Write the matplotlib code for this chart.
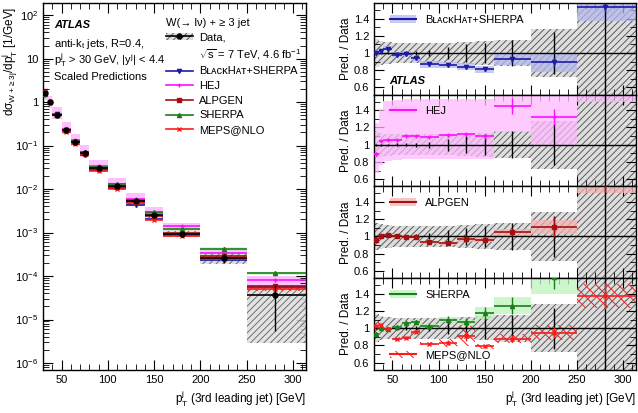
import numpy as np
import matplotlib
matplotlib.use("Agg")
import matplotlib.pyplot as plt
from matplotlib.patches import Patch
from matplotlib.lines import Line2D
from matplotlib.ticker import MultipleLocator, FixedLocator, NullFormatter

plt.rcParams['font.family'] = ['Liberation Sans', 'DejaVu Sans']
plt.rcParams['mathtext.fontset'] = 'custom'
plt.rcParams['mathtext.rm'] = 'Liberation Sans'
plt.rcParams['mathtext.it'] = 'Liberation Sans:italic'
plt.rcParams['mathtext.bf'] = 'Liberation Sans:bold'
plt.rcParams['mathtext.default'] = 'regular'
plt.rcParams['hatch.linewidth'] = 0.7

# ===== binning (3rd jet pT, GeV) =====
bin_lo = np.array([30, 35, 40, 50, 60, 70, 80, 100, 120, 140, 160, 200, 250])
bin_hi = np.array([35, 40, 50, 60, 70, 80, 100, 120, 140, 160, 200, 250, 350])
bin_x = np.array([32.5, 37.5, 45, 55, 65, 75, 90, 110, 130, 150, 180, 225, 280])

# ===== data (dsigma/dpT, 1/GeV) and relative uncertainties =====
data = np.array([1.65, 0.98, 0.50, 0.23, 0.12, 0.066, 0.031, 0.012, 0.0052, 0.0025, 0.00095, 0.00026, 3.6e-5])
data_stat_up = np.array([0.01, 0.01, 0.01, 0.015, 0.02, 0.025, 0.035, 0.07, 0.10, 0.12, 0.155, 0.24, 0.70])
data_stat_dn = np.array([0.01, 0.01, 0.01, 0.015, 0.02, 0.025, 0.035, 0.07, 0.10, 0.12, 0.155, 0.24, 0.85])
data_sys_up = np.array([0.16, 0.14, 0.13, 0.12, 0.12, 0.12, 0.12, 0.12, 0.13, 0.14, 0.155, 0.28, 0.67])
data_sys_dn = np.array([0.16, 0.14, 0.13, 0.12, 0.12, 0.12, 0.12, 0.12, 0.13, 0.14, 0.155, 0.28, 0.92])

# ===== predictions, as ratio to data =====
bh_ratio = np.array([1.00, 1.02, 1.05, 0.98, 0.99, 0.94, 0.87, 0.86, 0.84, 0.81, 0.93, 0.89, 1.53])
bh_band = np.array([0.03, 0.03, 0.03, 0.03, 0.03, 0.03, 0.04, 0.04, 0.04, 0.04, 0.07, 0.11, 0.16])
bh_err = np.array([0.005, 0.005, 0.01, 0.01, 0.01, 0.01, 0.01, 0.01, 0.015, 0.02, 0.03, 0.05, 0.05])

hej_ratio = np.array([0.89, 1.04, 1.05, 1.05, 1.10, 1.10, 1.09, 1.11, 1.12, 1.10, 1.45, 1.32, 2.2])
hej_lo = np.array([0.67, 0.76, 0.81, 0.82, 0.83, 0.83, 0.83, 0.84, 0.84, 0.84, 1.15, 0.98, 1.5])
hej_hi = np.array([1.25, 1.41, 1.51, 1.52, 1.53, 1.53, 1.53, 1.53, 1.53, 1.53, 1.75, 1.70, 2.8])
hej_err = np.array([0.02, 0.01, 0.01, 0.01, 0.01, 0.01, 0.01, 0.02, 0.02, 0.03, 0.09, 0.09, 0.2])

alp_ratio = np.array([0.96, 1.01, 1.02, 1.01, 0.99, 0.99, 0.93, 0.92, 0.97, 0.96, 1.05, 1.11, 1.62])
alp_band = np.array([0.02, 0.02, 0.02, 0.02, 0.02, 0.02, 0.02, 0.02, 0.03, 0.03, 0.04, 0.08, 0.12])
alp_err = np.array([0.01, 0.01, 0.01, 0.01, 0.01, 0.01, 0.01, 0.02, 0.03, 0.04, 0.05, 0.12, 0.1])

she_ratio = np.array([0.93, 1.00, 0.99, 1.01, 1.06, 1.07, 1.03, 1.10, 1.07, 1.18, 1.26, 1.60, 3.2])
she_band = np.array([0.02, 0.02, 0.02, 0.02, 0.02, 0.02, 0.02, 0.03, 0.03, 0.07, 0.10, 0.20, 0.3])
she_err = np.array([0.01, 0.01, 0.01, 0.02, 0.02, 0.02, 0.02, 0.04, 0.05, 0.07, 0.10, 0.15, 0.3])

mep_ratio = np.array([1.03, 1.04, 0.99, 0.87, 0.89, 0.96, 0.82, 0.83, 0.91, 0.79, 0.88, 0.95, 1.37])
mep_band = np.array([0.04, 0.04, 0.02, 0.02, 0.02, 0.03, 0.02, 0.05, 0.12, 0.03, 0.05, 0.09, 0.14])
mep_err = np.array([0.02, 0.02, 0.01, 0.01, 0.02, 0.02, 0.01, 0.03, 0.06, 0.02, 0.04, 0.06, 0.15])

BH_LABEL = 'B\u029f\u1d00\u1d04\u1d0bH\u1d00\u1d1b+SHERPA'

# name, ratio, band lo, band hi, stat err, line colour, band colour, marker, hatch
models = [
    (BH_LABEL, bh_ratio, bh_ratio - bh_band, bh_ratio + bh_band, bh_err, '#1c1ca6', '#b4b8ec', 'v', None),
    ('HEJ', hej_ratio, hej_lo, hej_hi, hej_err, '#ff10ff', '#ffbaff', '+', None),
    ('ALPGEN', alp_ratio, alp_ratio - alp_band, alp_ratio + alp_band, alp_err, '#a41010', '#f4b4b4', 's', None),
    ('SHERPA', she_ratio, she_ratio - she_band, she_ratio + she_band, she_err, '#1a7f1a', '#bdf3bd', '^', None),
    ('MEPS@NLO', mep_ratio, mep_ratio - mep_band, mep_ratio + mep_band, mep_err, '#ff1a1a', 'none', 'x', '\\\\\\'),
]

HATCH_FACE = '#dedede'
HATCH_EDGE = '#5a5a5a'
FS = 8

W, H = 638, 413
XMIN, XMAX = 30, 314


def px_axes(fig, x0, y0, x1, y1):
    return fig.add_axes([x0 / W, 1 - y1 / H, (x1 - x0) / W, (y1 - y0) / H])


def style_ticks(ax):
    ax.tick_params(which='both', direction='in', top=True, right=True, labelsize=FS)
    ax.tick_params(which='major', length=7, width=0.8)
    ax.tick_params(which='minor', length=4, width=0.6)
    for s in ax.spines.values():
        s.set_linewidth(1.0)


def draw_band(ax, lo, hi, **kw):
    ax.bar(bin_lo, hi - lo, bottom=lo, width=bin_hi - bin_lo, align='edge', linewidth=0, **kw)


def main():
    fig = plt.figure(figsize=(W / 100, H / 100), dpi=100)

    # ===== main panel =====
    ax = px_axes(fig, 43, 3, 306, 370)
    ax.set_yscale('log')

    for name, r, lo, hi, err, c, bc, m, hatch in models:
        if hatch is None:
            draw_band(ax, data * lo, data * hi, color=bc, alpha=0.9 if name == 'HEJ' else 0.6, zorder=1)
        else:
            draw_band(ax, data * lo, data * hi, facecolor='none', edgecolor=c, hatch='\\\\\\\\', zorder=3)

    draw_band(ax, data * (1 - data_sys_dn), data * (1 + data_sys_up),
              facecolor=HATCH_FACE, edgecolor=HATCH_EDGE, hatch='/////', alpha=0.85, zorder=2)

    for name, r, lo, hi, err, c, bc, m, hatch in models:
        ax.hlines(data * r, bin_lo, bin_hi, color=c, lw=1.2, zorder=4)
        ax.errorbar(bin_x, data * r, yerr=data * err, fmt=m, color=c, ms=3, mew=1.0,
                    elinewidth=1.0, capsize=0, zorder=5)

    ax.hlines(data, bin_lo, bin_hi, color='k', lw=1.2, zorder=6)
    ax.errorbar(bin_x, data, yerr=[data * data_stat_dn, data * data_stat_up], fmt='o', color='k',
                ms=3.5, elinewidth=1.0, capsize=0, zorder=7)

    ax.set_xlim(XMIN, XMAX)
    ax.set_ylim(6.9e-7, 1.9e2)
    ax.xaxis.set_major_locator(MultipleLocator(50))
    ax.xaxis.set_minor_locator(MultipleLocator(10))
    decades = [1e2, 1e1, 1, 1e-1, 1e-2, 1e-3, 1e-4, 1e-5, 1e-6]
    dec_labels = ['$10^{2}$', '10', '1', '$10^{-1}$', '$10^{-2}$', '$10^{-3}$',
                  '$10^{-4}$', '$10^{-5}$', '$10^{-6}$']
    ax.yaxis.set_major_locator(FixedLocator(decades))
    ax.set_yticklabels(dec_labels)
    minors = [k * d for d in [1e-7, 1e-6, 1e-5, 1e-4, 1e-3, 1e-2, 1e-1, 1, 10, 100] for k in range(2, 10)]
    ax.yaxis.set_minor_locator(FixedLocator(minors))
    ax.yaxis.set_minor_formatter(NullFormatter())
    style_ticks(ax)
    ax.set_xlabel(r'$p_{T}^{j}$ (3rd leading jet) [GeV]', fontsize=8.5, loc='right', labelpad=3)
    ax.set_ylabel(r'd$\sigma_{W+\geq3j}$/d$p_{T}^{j}$ [1/GeV]', fontsize=8.5, loc='top')
    ax.yaxis.set_label_coords(-0.088, 0.99)

    # labels top-left
    ax.text(0.042, 0.933, 'ATLAS', transform=ax.transAxes, fontsize=FS, fontweight='bold',
            fontstyle='italic', va='baseline')
    ax.text(0.042, 0.880, r'anti-$k_{t}$ jets, R=0.4,', transform=ax.transAxes, fontsize=FS, va='baseline')
    ax.text(0.042, 0.834, r'$p_{T}^{j}$ > 30 GeV, |$y^{j}$| < 4.4', transform=ax.transAxes,
            fontsize=FS, va='baseline')
    ax.text(0.042, 0.790, 'Scaled Predictions', transform=ax.transAxes, fontsize=FS, va='baseline')

    # legend
    data_handle = (Patch(facecolor=HATCH_FACE, edgecolor=HATCH_EDGE, hatch='/////', lw=0),
                   Line2D([], [], color='k', marker='o', ms=3.5, lw=1.2))
    handles = [data_handle, Patch(facecolor='none', edgecolor='none')]
    labels = ['Data,', r'$\sqrt{s}$ = 7 TeV, 4.6 fb$^{-1}$']
    for name, r, lo, hi, err, c, bc, m, hatch in models:
        handles.append(Line2D([], [], color=c, marker=m, ms=3, lw=1.2))
        labels.append(name)
    ax.legend(handles, labels, loc='upper left', bbox_to_anchor=(0.468, 0.96),
              frameon=False, fontsize=FS, title='W(\u2192 l\u03bd) + \u2265 3 jet',
              title_fontsize=FS, alignment='left', handlelength=2.4, handletextpad=0.6,
              labelspacing=0.42, borderpad=0, borderaxespad=0)

    # ===== ratio panels =====
    tops = [3, 94.75, 186.5, 278.25]
    groups = [[0], [1], [2], [3, 4]]
    for i, (top, grp) in enumerate(zip(tops, groups)):
        rax = px_axes(fig, 374, top, 636, top + 91.75)
        draw_band(rax, 1 - data_sys_dn, 1 + data_sys_up, facecolor=HATCH_FACE, edgecolor=HATCH_EDGE,
                  hatch='/////', zorder=1)
        leg_handles = []
        for j in grp:
            name, r, lo, hi, err, c, bc, m, hatch = models[j]
            if hatch is None:
                draw_band(rax, lo, hi, color=bc, alpha=0.75, zorder=2)
                leg_handles.append(((Patch(facecolor=bc, alpha=0.75, lw=0),
                                     Line2D([], [], color=c, lw=1.5)), name))
            else:
                draw_band(rax, lo, hi, facecolor='none', edgecolor=c, hatch=hatch, zorder=2)
                leg_handles.append(((Patch(facecolor='none', edgecolor=c, hatch=hatch, lw=0),
                                     Line2D([], [], color=c, lw=1.5)), name))
        rax.axhline(1, color='k', lw=1.0, zorder=3)
        rax.errorbar(bin_x, np.ones_like(bin_x), yerr=[data_stat_dn, data_stat_up], fmt='none',
                     ecolor='k', elinewidth=1.0, capsize=0, zorder=4)
        for j in grp:
            name, r, lo, hi, err, c, bc, m, hatch = models[j]
            rax.hlines(r, bin_lo, bin_hi, color=c, lw=1.2, zorder=5)
            rax.errorbar(bin_x, r, yerr=err, fmt=m, color=c, ms=3, mew=1.0, elinewidth=1.0,
                         capsize=0, zorder=6)

        rax.set_xlim(XMIN, XMAX)
        rax.set_ylim(0.515, 1.58)
        rax.xaxis.set_major_locator(MultipleLocator(50))
        rax.xaxis.set_minor_locator(MultipleLocator(10))
        rax.yaxis.set_major_locator(FixedLocator([0.6, 0.8, 1.0, 1.2, 1.4]))
        rax.set_yticklabels(['0.6', '0.8', '1', '1.2', '1.4'])
        rax.yaxis.set_minor_locator(MultipleLocator(0.1))
        style_ticks(rax)
        rax.set_ylabel('Pred. / Data', fontsize=8.5)
        rax.yaxis.set_label_coords(-0.085, 0.5)
        if i < 3:
            rax.tick_params(labelbottom=False)
        else:
            rax.set_xlabel(r'$p_{T}^{j}$ (3rd leading jet) [GeV]', fontsize=8.5, loc='right', labelpad=3)

        rleg = rax.legend([h for h, _ in leg_handles[:1]], [n for _, n in leg_handles[:1]],
                          loc='center left', bbox_to_anchor=(0.06, 0.82), frameon=False, fontsize=FS,
                          handlelength=2.4, handletextpad=0.8, borderpad=0, borderaxespad=0)
        if len(leg_handles) > 1:
            rax.add_artist(rleg)
            rax.legend([leg_handles[1][0]], [leg_handles[1][1]], loc='center left',
                       bbox_to_anchor=(0.06, 0.16), frameon=False, fontsize=FS,
                       handlelength=2.4, handletextpad=0.8, borderpad=0, borderaxespad=0)
        if i == 0:
            rax.text(0.057, 0.15, 'ATLAS', transform=rax.transAxes, fontsize=FS, fontweight='bold',
                     fontstyle='italic', va='center')

    fig.savefig('out.png', dpi=100)
    plt.close(fig)


if __name__ == "__main__":
    main()
